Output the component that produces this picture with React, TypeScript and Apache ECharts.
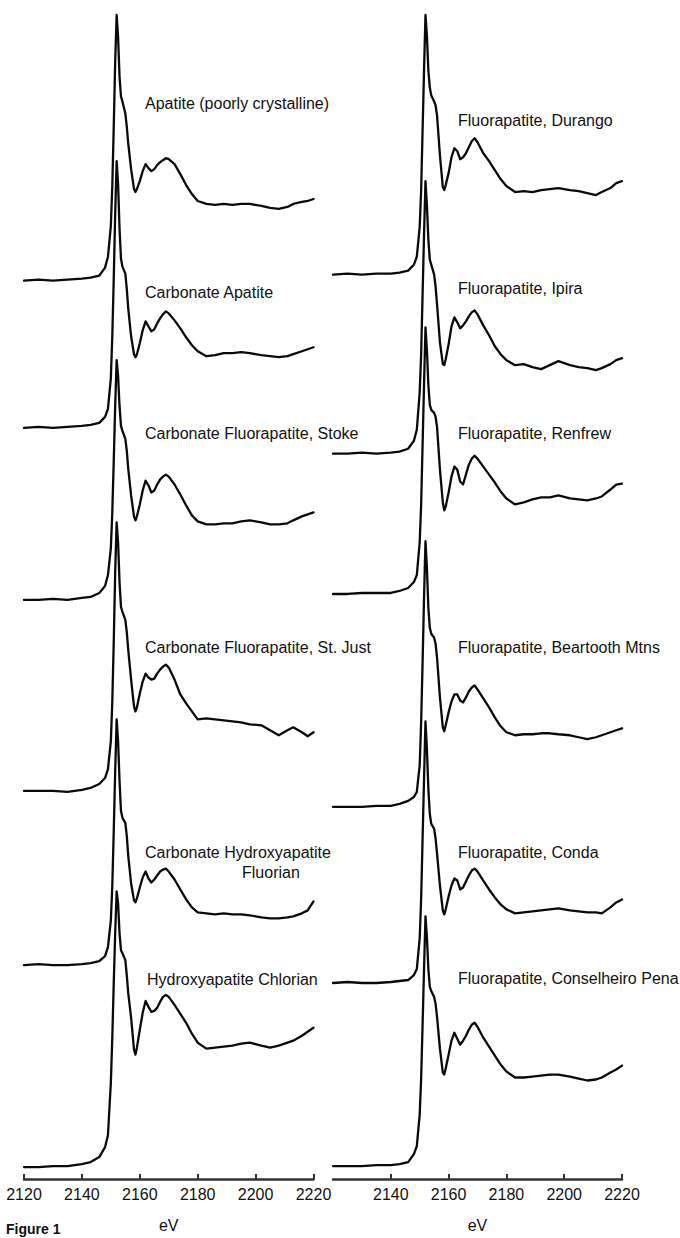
import React, { useEffect, useRef } from "react";
import * as echarts from "echarts";

// Photon energy grid (eV) shared by all spectra
const ENERGY = [
  2120, 2125, 2130, 2135, 2140,
  2143, 2146, 2148, 2149, 2150,
  2150.5, 2151, 2151.5, 2152, 2152.5,
  2153, 2153.5, 2154, 2155, 2155.5,
  2156, 2157, 2158, 2158.5, 2159,
  2160, 2161, 2162, 2163, 2164,
  2165, 2166, 2167, 2168, 2169,
  2170, 2172, 2174, 2176, 2178,
  2180, 2183, 2186, 2189, 2192,
  2195, 2198, 2202, 2205, 2208,
  2211, 2213, 2216, 2218, 2220,
];

const X_TICKS = [2120, 2140, 2160, 2180, 2200, 2220];

// Left column
const APATITE_PC = [
  0.0, 0.01, 0.0, 0.01, 0.02,
  0.03, 0.05, 0.13, 0.24, 0.55,
  0.95, 1.55, 2.2, 2.67, 2.45,
  2.05, 1.85, 1.8, 1.68, 1.55,
  1.38, 1.12, 0.92, 0.89, 0.92,
  1.0, 1.1, 1.17, 1.13, 1.1,
  1.12, 1.16, 1.19, 1.21, 1.23,
  1.22, 1.17, 1.07, 0.96, 0.87,
  0.8, 0.77, 0.76, 0.77, 0.76,
  0.77, 0.77, 0.75, 0.73, 0.72,
  0.74, 0.77, 0.79, 0.8, 0.82,
];
const CARB_APATITE = [
  0.0, 0.01, 0.0, 0.01, 0.02,
  0.03, 0.05, 0.11, 0.19, 0.5,
  0.92, 1.5, 2.15, 2.68, 2.45,
  2.0, 1.7, 1.62, 1.55, 1.4,
  1.2, 0.92, 0.74, 0.71, 0.74,
  0.85, 0.98, 1.07, 1.02, 0.97,
  0.99, 1.05, 1.1, 1.14, 1.17,
  1.15, 1.08, 1.0, 0.91, 0.83,
  0.77, 0.72, 0.73, 0.75, 0.75,
  0.76, 0.75, 0.73, 0.72, 0.71,
  0.72, 0.74, 0.77, 0.79, 0.81,
];
const CFA_STOKE = [
  0.0, 0.0, 0.01, 0.0, 0.02,
  0.03, 0.07, 0.14, 0.25, 0.52,
  0.88, 1.4, 1.95, 2.41, 2.25,
  1.95, 1.75, 1.7, 1.62, 1.5,
  1.32, 1.05, 0.84, 0.8, 0.84,
  0.96, 1.1, 1.2, 1.15, 1.08,
  1.1, 1.16, 1.21, 1.24, 1.26,
  1.24, 1.16, 1.06, 0.95, 0.85,
  0.79, 0.76, 0.76, 0.77, 0.77,
  0.79, 0.8, 0.78, 0.76, 0.76,
  0.77, 0.8, 0.84, 0.86, 0.88,
];
const CFA_STJUST = [
  0.0, 0.0, 0.0, -0.01, 0.01,
  0.03, 0.07, 0.13, 0.22, 0.5,
  0.9, 1.5, 2.2, 2.7, 2.5,
  2.1, 1.85, 1.8, 1.72, 1.6,
  1.42, 1.12, 0.85, 0.8, 0.84,
  0.98, 1.1, 1.18, 1.14, 1.12,
  1.13, 1.18, 1.22, 1.25, 1.27,
  1.24, 1.12, 0.97, 0.88, 0.8,
  0.72, 0.73, 0.72, 0.71, 0.7,
  0.69, 0.67, 0.66, 0.61, 0.56,
  0.61, 0.64, 0.59, 0.55, 0.59,
];
const CHA_FLUORIAN = [
  0.0, 0.01, 0.0, 0.0, 0.01,
  0.02, 0.04, 0.09, 0.18, 0.45,
  0.8, 1.35, 1.95, 2.47, 2.25,
  1.85, 1.55, 1.48, 1.43, 1.3,
  1.1, 0.82, 0.65, 0.63, 0.67,
  0.78, 0.88, 0.94, 0.87, 0.83,
  0.86, 0.9, 0.94, 0.96, 0.97,
  0.94, 0.86, 0.76, 0.66, 0.58,
  0.53, 0.52, 0.51, 0.52, 0.51,
  0.51, 0.5, 0.48, 0.47, 0.47,
  0.48, 0.49, 0.52, 0.55, 0.64,
];
const HA_CHLORIAN = [
  0.0, 0.0, 0.01, 0.01, 0.03,
  0.05, 0.1, 0.2, 0.32, 0.85,
  1.3, 1.85, 2.35, 2.77, 2.65,
  2.35, 2.18, 2.15, 2.08, 1.93,
  1.75, 1.5, 1.18, 1.13, 1.2,
  1.38, 1.55, 1.67, 1.61, 1.56,
  1.57, 1.6, 1.66, 1.71, 1.73,
  1.71, 1.63, 1.54, 1.45, 1.34,
  1.25, 1.19, 1.2, 1.21, 1.22,
  1.24, 1.25, 1.22, 1.2, 1.22,
  1.25, 1.27, 1.32, 1.36, 1.4,
];

// Right column
const FA_DURANGO = [
  0.0, 0.01, 0.0, 0.01, 0.01,
  0.02, 0.04, 0.1, 0.18, 0.48,
  0.85, 1.45, 2.05, 2.61, 2.4,
  2.05, 1.88, 1.8, 1.74, 1.7,
  1.6, 1.2, 0.88, 0.85, 0.9,
  1.02, 1.18, 1.27, 1.24, 1.16,
  1.18, 1.22, 1.28, 1.34, 1.37,
  1.33, 1.22, 1.14, 1.05, 0.96,
  0.89, 0.83, 0.84, 0.83, 0.85,
  0.86, 0.87, 0.85, 0.84, 0.82,
  0.8, 0.83, 0.87, 0.92, 0.94,
];
const FA_IPIRA = [
  0.0, 0.0, 0.01, 0.0, 0.01,
  0.02, 0.05, 0.13, 0.24, 0.62,
  1.0, 1.6, 2.2, 2.74, 2.5,
  2.15, 1.95, 1.9, 1.8, 1.68,
  1.5, 1.12, 0.9, 0.89, 0.95,
  1.1, 1.28, 1.37, 1.32, 1.26,
  1.29, 1.33, 1.38, 1.42, 1.44,
  1.4, 1.29, 1.19, 1.08, 1.0,
  0.94, 0.89, 0.9, 0.87, 0.85,
  0.89, 0.93, 0.89, 0.87, 0.86,
  0.84, 0.86, 0.9, 0.94, 0.96,
];
const FA_RENFREW = [
  0.0, 0.0, 0.01, 0.01, 0.01,
  0.03, 0.06, 0.12, 0.19, 0.52,
  0.9, 1.5, 2.1, 2.68, 2.45,
  2.1, 1.9, 1.85, 1.82, 1.78,
  1.68, 1.25, 0.92, 0.84, 0.88,
  1.02, 1.18, 1.28, 1.25, 1.13,
  1.1, 1.2, 1.3, 1.36, 1.39,
  1.36, 1.28, 1.2, 1.12, 1.03,
  0.96, 0.9, 0.92, 0.95, 0.97,
  0.97, 0.99, 0.96, 0.95, 0.94,
  0.96, 0.98, 1.05, 1.1, 1.11,
];
const FA_BEARTOOTH = [
  0.0, 0.0, 0.0, 0.01, 0.01,
  0.03, 0.06, 0.1, 0.15, 0.42,
  0.85, 1.45, 2.1, 2.67, 2.4,
  2.0, 1.8, 1.74, 1.7, 1.64,
  1.5, 1.1, 0.8, 0.76, 0.82,
  0.95, 1.06, 1.13, 1.13, 1.07,
  1.05, 1.1, 1.16, 1.2, 1.22,
  1.18, 1.09, 1.0, 0.9, 0.81,
  0.75, 0.72, 0.73, 0.73, 0.74,
  0.74, 0.73, 0.72, 0.7, 0.68,
  0.7, 0.72, 0.75, 0.77, 0.79,
];
const FA_CONDA = [
  0.0, 0.01, 0.0, 0.0, 0.01,
  0.02, 0.03, 0.08, 0.14, 0.45,
  0.85, 1.45, 2.05, 2.63, 2.35,
  1.95, 1.7, 1.6, 1.55, 1.45,
  1.3, 0.98, 0.73, 0.69, 0.74,
  0.87, 0.98, 1.05, 1.03, 0.94,
  0.96, 1.02, 1.08, 1.13, 1.15,
  1.12, 1.03, 0.94, 0.86, 0.79,
  0.74, 0.7, 0.71, 0.72, 0.73,
  0.74, 0.75, 0.73, 0.72, 0.71,
  0.71, 0.7, 0.76, 0.81, 0.84,
];
const FA_CPENA = [
  0.0, 0.0, 0.0, 0.01, 0.01,
  0.02, 0.04, 0.12, 0.2, 0.52,
  0.88, 1.42, 1.98, 2.51, 2.3,
  1.98, 1.8, 1.76, 1.7, 1.63,
  1.5, 1.18, 0.94, 0.92, 0.98,
  1.12, 1.26, 1.34, 1.28, 1.22,
  1.26, 1.31, 1.37, 1.42, 1.44,
  1.4, 1.29, 1.2, 1.11, 1.02,
  0.95, 0.89, 0.89, 0.9, 0.91,
  0.92, 0.92, 0.9, 0.88, 0.86,
  0.87, 0.89, 0.94, 0.97, 1.01,
];

const LEFT_NAMES = [
  "Apatite (poorly crystalline)",
  "Carbonate Apatite",
  "Carbonate Fluorapatite, Stoke",
  "Carbonate Fluorapatite, St. Just",
  "Carbonate Hydroxyapatite Fluorian",
  "Hydroxyapatite Chlorian",
];
const RIGHT_NAMES = [
  "Fluorapatite, Durango",
  "Fluorapatite, Ipira",
  "Fluorapatite, Renfrew",
  "Fluorapatite, Beartooth Mtns",
  "Fluorapatite, Conda",
  "Fluorapatite, Conselheiro Pena",
];
const LEFT_SPECTRA = [APATITE_PC, CARB_APATITE, CFA_STOKE, CFA_STJUST, CHA_FLUORIAN, HA_CHLORIAN];
const RIGHT_SPECTRA = [FA_DURANGO, FA_IPIRA, FA_RENFREW, FA_BEARTOOTH, FA_CONDA, FA_CPENA];
// vertical stacking offsets (baseline of each trace)
const LEFT_OFFSETS = [9.03, 7.55, 5.82, 3.9, 2.15, 0.12];
const RIGHT_OFFSETS = [9.09, 7.29, 5.88, 3.74, 1.97, 0.13];
const Y_MAX = 11.85;

const FONT = '"Liberation Sans", Arial, Helvetica, sans-serif';

function buildSeries(names: string[], spectra: number[][], offsets: number[], axisIndex: number) {
  return names.map((name, k) => ({
    name,
    type: "line",
    xAxisIndex: axisIndex,
    yAxisIndex: axisIndex,
    showSymbol: false,
    symbol: "none",
    clip: false,
    lineStyle: { color: "#0a0a0a", width: 2.3, join: "round", cap: "round" },
    data: ENERGY.map((e, i) => [e, +(offsets[k] + spectra[k][i]).toFixed(3)]),
  }));
}

function xAxis(gridIndex: number, showMin: boolean) {
  return {
    type: "value",
    gridIndex,
    min: X_TICKS[0],
    max: X_TICKS[X_TICKS.length - 1],
    interval: 20,
    name: "eV",
    nameLocation: "middle",
    nameGap: 38,
    nameTextStyle: { fontFamily: FONT, fontSize: 16, color: "#111" },
    axisLine: { show: true, lineStyle: { color: "#333", width: 2.5 } },
    axisTick: { show: true, inside: true, length: 5, lineStyle: { color: "#333", width: 2 } },
    axisLabel: {
      show: true,
      margin: 7,
      fontFamily: FONT,
      fontSize: 16,
      color: "#111",
      showMinLabel: showMin,
      showMaxLabel: true,
      formatter: (v: number) => String(v),
    },
    splitLine: { show: false },
  };
}

function label(text: string, x: number, y: number) {
  return {
    type: "text",
    x,
    y,
    silent: true,
    style: {
      text,
      fill: "#111",
      fontFamily: FONT,
      fontSize: 16,
      verticalAlign: "middle",
      align: "left",
    },
  };
}

export default function App() {
  const ref = useRef<HTMLDivElement>(null);
  useEffect(() => {
    if (!ref.current) return;
    const chart = echarts.init(ref.current, null, { renderer: "svg" });
    const option = {
      animation: false,
      backgroundColor: "#ffffff",
      grid: [
        { left: 24, top: 0, width: 289.5, height: 1185 },
        { left: 333, top: 0, width: 289, height: 1185 },
      ],
      xAxis: [xAxis(0, true), xAxis(1, false)],
      yAxis: [
        { type: "value", gridIndex: 0, min: 0, max: Y_MAX, show: false, splitLine: { show: false } },
        { type: "value", gridIndex: 1, min: 0, max: Y_MAX, show: false, splitLine: { show: false } },
      ],
      series: [
        ...buildSeries(LEFT_NAMES, LEFT_SPECTRA, LEFT_OFFSETS, 0),
        ...buildSeries(RIGHT_NAMES, RIGHT_SPECTRA, RIGHT_OFFSETS, 1),
      ],
      graphic: [
        label(LEFT_NAMES[0], 145, 103),
        label(LEFT_NAMES[1], 145, 292),
        label(LEFT_NAMES[2], 145, 433),
        label(LEFT_NAMES[3], 145, 647),
        label("Carbonate Hydroxyapatite", 145, 852),
        label("Fluorian", 242, 872),
        label(LEFT_NAMES[5], 147, 979),
        label(RIGHT_NAMES[0], 458, 120),
        label(RIGHT_NAMES[1], 458, 288),
        label(RIGHT_NAMES[2], 458, 433),
        label(RIGHT_NAMES[3], 458, 647),
        label(RIGHT_NAMES[4], 458, 852),
        label(RIGHT_NAMES[5], 458, 978),
        {
          type: "text",
          x: 6,
          y: 1222,
          silent: true,
          style: {
            text: "Figure 1",
            fill: "#111",
            fontFamily: FONT,
            fontSize: 14,
            fontWeight: "bold",
            verticalAlign: "top",
          },
        },
      ],
    };
    chart.setOption(option as any);
    return () => chart.dispose();
  }, []);
  return (
    <div
      ref={ref}
      style={{ position: "fixed", left: 0, top: 0, width: 680, height: 1238, background: "#fff" }}
    />
  );
}
